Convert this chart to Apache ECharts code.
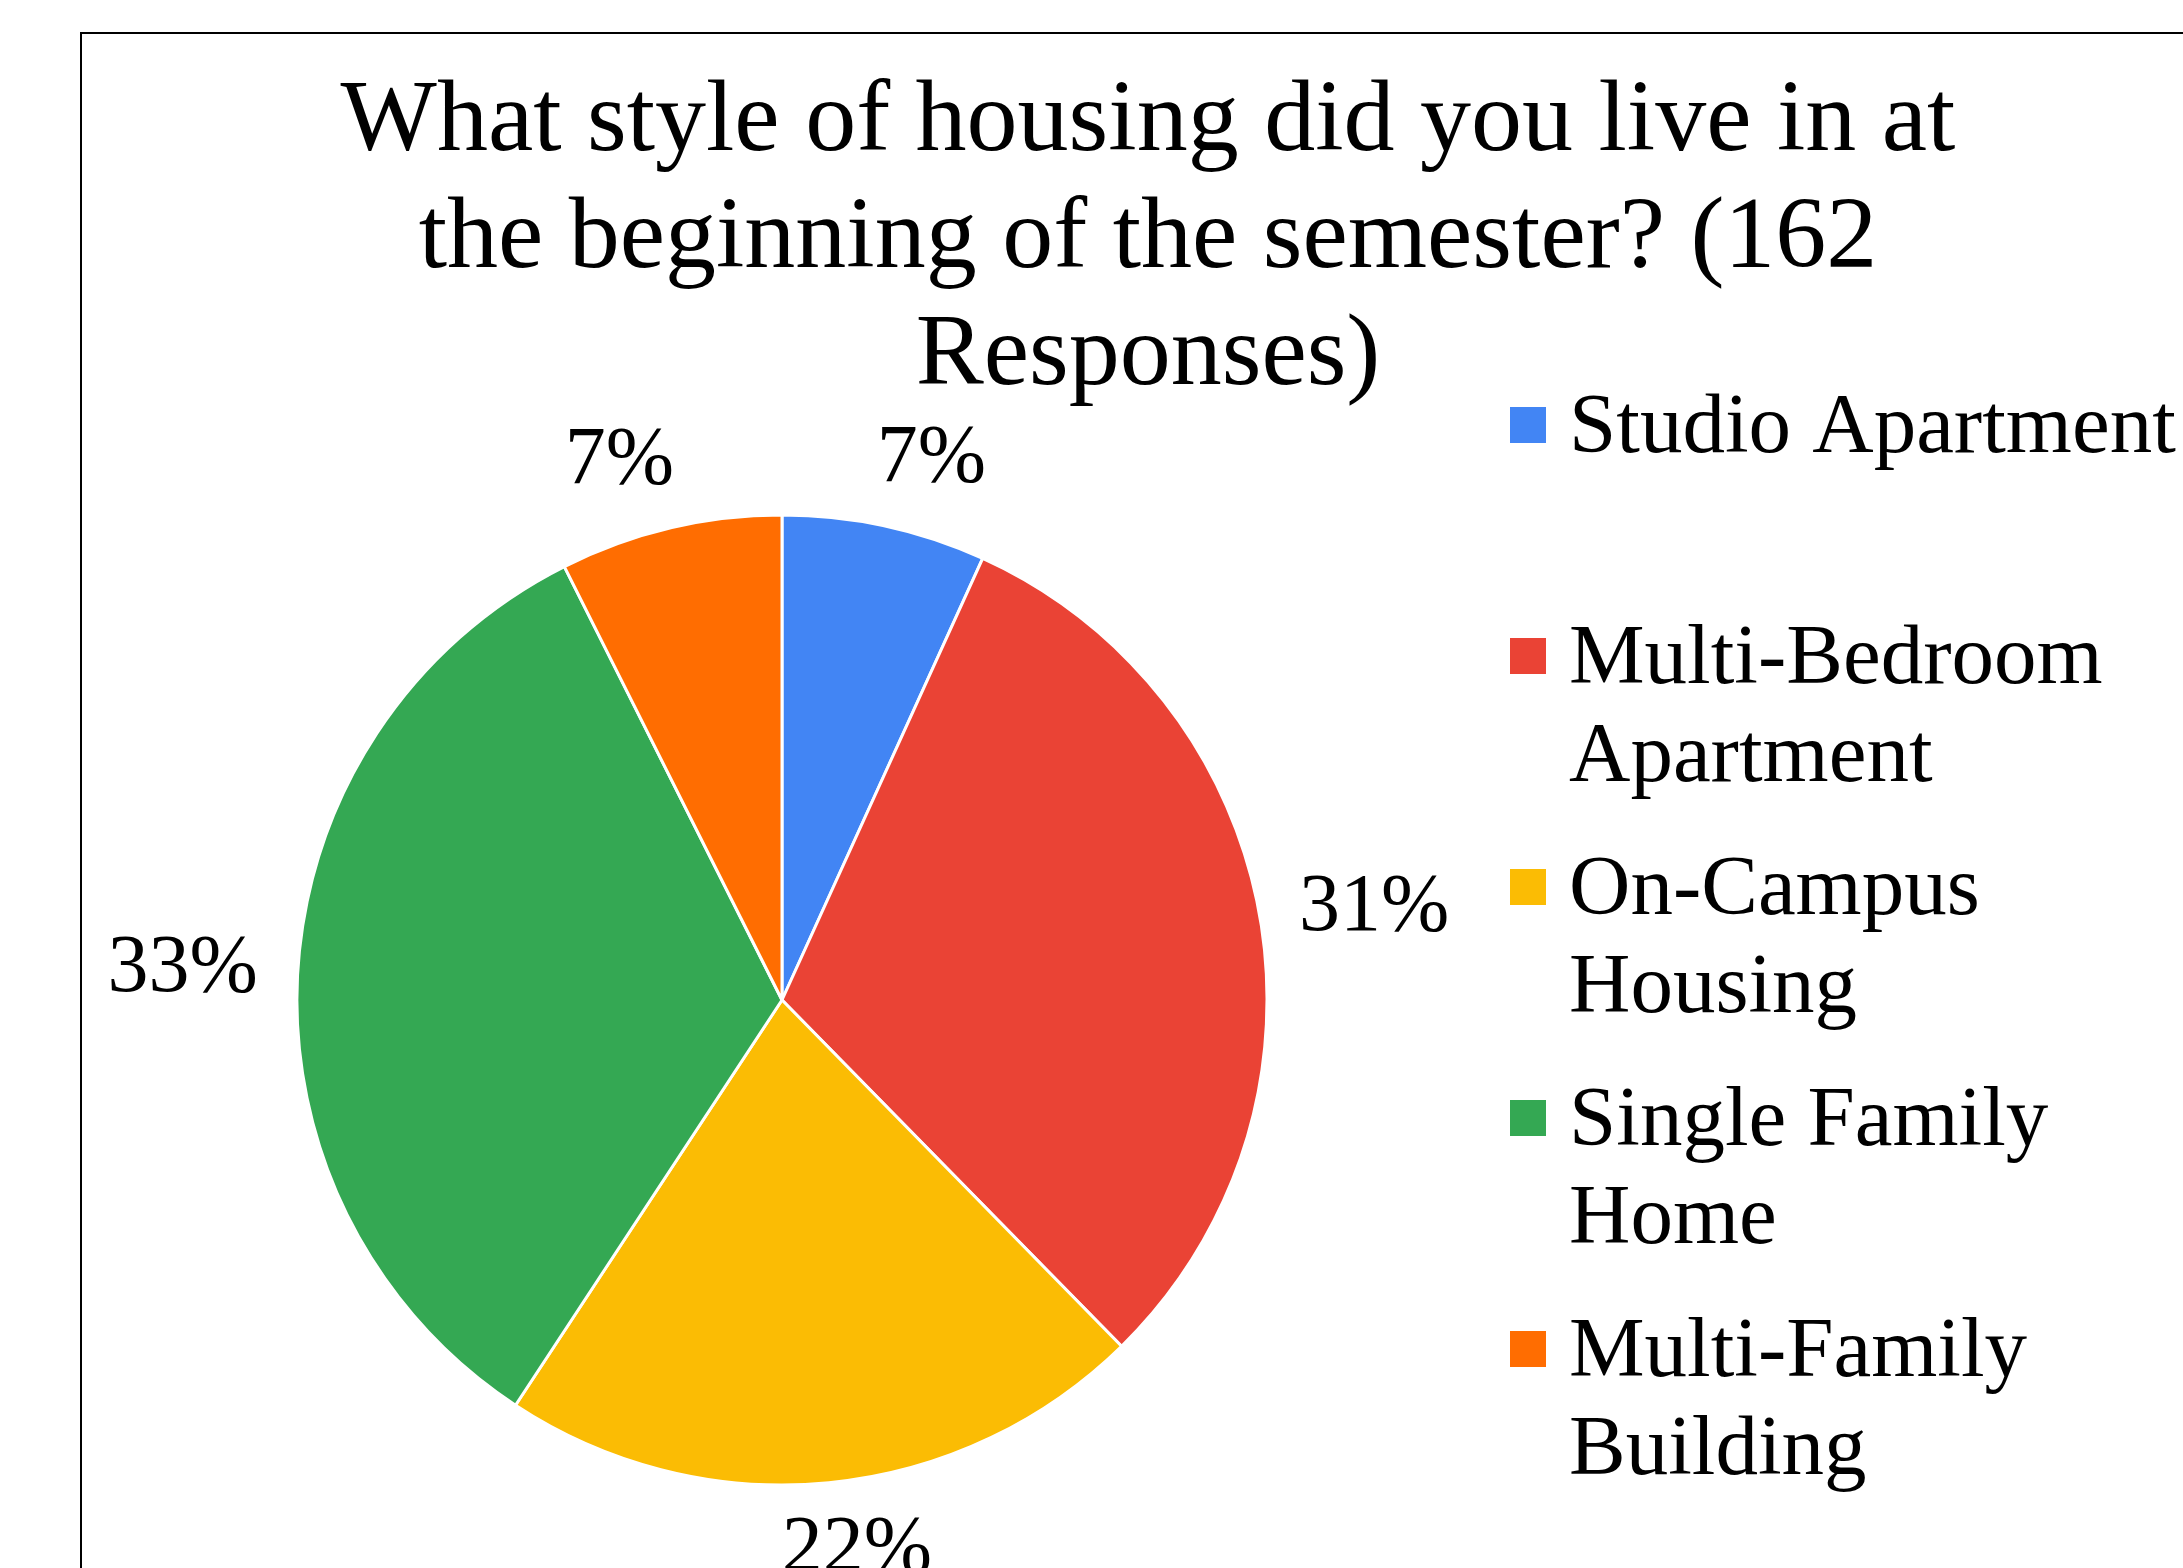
<!DOCTYPE html>
<html>
<head>
<meta charset="utf-8">
<title>Housing style</title>
<script src="https://cdn.jsdelivr.net/npm/echarts@6/dist/echarts.min.js"></script>
<style>
  html, body { margin: 0; padding: 0; background: #fff; }
  #chart { width: 2183px; height: 1568px; }
</style>
</head>
<body>
<div id="chart"></div>
<script>
// survey answers, 162 responses in total
const categories = ['Studio Apartment', 'Multi-Bedroom Apartment', 'On-Campus Housing', 'Single Family Home', 'Multi-Family Building'];
const legendNames = ['Studio Apartment', 'Multi-Bedroom\nApartment', 'On-Campus\nHousing', 'Single Family\nHome', 'Multi-Family\nBuilding'];
const counts = [11, 50, 35, 54, 12];
const colors = ['#4285F4', '#EA4335', '#FBBC04', '#34A853', '#FF6D01'];

const FONT = '"Liberation Serif", "Times New Roman", serif';
const CX = 782, CY = 1000, R = 485;
const LINE = 98;        // legend line height
const LEAD = 10;        // extra height of the blank first legend line
const ITEM_STEP = 231;  // distance between legend entries
const LABEL_SIZE = 82;
const LABEL_GAP = 40;   // anchor distance outside the pie edge

const chart = echarts.init(document.getElementById('chart'));

// mid angle of every slice, clockwise from 12 o'clock
const total = counts.reduce((a, b) => a + b, 0);
const midAngles = [];
let acc = 0;
counts.forEach(v => {
    midAngles.push((acc + v / 2) / total * Math.PI * 2);
    acc += v;
});

// every legend entry is three lines tall with the name starting on the
// middle one, so the square sits level with the first line of text
function legendText(name) {
    const lines = legendNames[categories.indexOf(name)].split('\n');
    if (lines.length === 1) lines.push('\u00a0');
    return '{gap|\u00a0}\n' + lines.map(s => '{t|' + s + '}').join('\n');
}

const option = {
    backgroundColor: '#fff',
    animation: false,
    title: {
        text: 'What style of housing did you live in at\nthe beginning of the semester? (162\nResponses)',
        left: 1148,
        top: 65,
        padding: 0,
        textAlign: 'center',
        textVerticalAlign: 'top',
        textStyle: {
            fontFamily: FONT,
            fontSize: 102,
            fontWeight: 'normal',
            color: '#000',
            lineHeight: 117
        }
    },
    legend: {
        orient: 'vertical',
        left: 1508,
        top: 273,
        padding: 0,
        itemWidth: 38,
        itemHeight: 38,
        itemGap: ITEM_STEP - 3 * LINE - LEAD,
        icon: 'rect',
        selectedMode: false,
        data: categories,
        formatter: legendText,
        textStyle: {
            fontFamily: FONT,
            fontSize: 85,
            color: '#000',
            lineHeight: LINE,
            padding: [0, 0, 0, 17],
            rich: {
                gap: { fontFamily: FONT, fontSize: 20, lineHeight: LINE + LEAD },
                t: { fontFamily: FONT, fontSize: 85, color: '#000', lineHeight: LINE }
            }
        }
    },
    graphic: [{
        type: 'rect',
        z: -10,
        shape: { x: 81, y: 33, width: 2400, height: 1800 },
        style: { fill: 'none', stroke: '#000', lineWidth: 2 }
    }],
    series: [{
        type: 'pie',
        center: [CX, CY],
        radius: R,
        startAngle: 90,
        clockwise: true,
        avoidLabelOverlap: false,
        color: colors,
        itemStyle: { borderColor: '#fff', borderWidth: 3 },
        label: {
            position: 'outside',
            fontFamily: FONT,
            fontSize: LABEL_SIZE,
            color: '#000',
            formatter: p => Math.round(p.percent) + '%'
        },
        labelLine: { show: false },
        emphasis: { disabled: true },
        labelLayout: function (p) {
            // anchor just outside the slice middle, text leans away from the pie
            const a = midAngles[p.dataIndex];
            const dx = Math.sin(a), dy = -Math.cos(a);
            const ax = CX + dx * (R + LABEL_GAP), ay = CY + dy * (R + LABEL_GAP);
            const hw = p.labelRect.width / 2;
            const inkH = LABEL_SIZE * 0.68;
            const x = ax + Math.sign(dx) * hw * Math.min(1, 3.3 * Math.abs(dx));
            let y = ay;
            if (dy < -0.5) y = ay - inkH / 2;
            else if (dy > 0.5) y = ay + inkH / 2;
            return { x: x, y: y, align: 'center', verticalAlign: 'middle' };
        },
        data: categories.map((name, i) => ({ name: name, value: counts[i] }))
    }]
};

chart.setOption(option);
window.addEventListener('resize', () => chart.resize());
</script>
</body>
</html>
